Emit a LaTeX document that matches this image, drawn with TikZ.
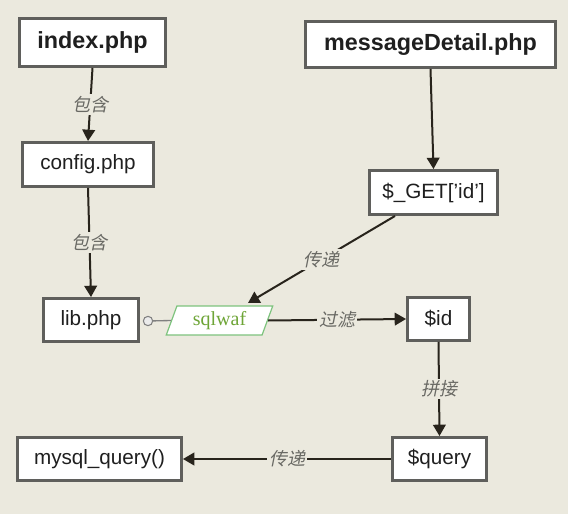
\documentclass[tikz,border=0pt]{standalone}
\usepackage{fontspec}
\setmainfont{Liberation Sans}
\newfontfamily\cjk[FakeSlant=0.2]{Noto Sans CJK SC}
\newfontfamily\wafserif{Liberation Serif}
\usetikzlibrary{shapes.geometric,arrows.meta,calc}
\definecolor{bg}{RGB}{235,233,222}
\definecolor{boxline}{RGB}{95,95,92}
\definecolor{edgecol}{RGB}{40,36,28}
\definecolor{labcol}{RGB}{105,105,100}
\definecolor{wafline}{RGB}{125,195,125}
\definecolor{waftext}{RGB}{110,165,55}
\begin{document}
\begin{tikzpicture}[x=0.75pt,y=-0.75pt,
  box/.style={draw=boxline,line width=2.2pt,fill=white,inner sep=0pt,text=black!88,font=\fontsize{15.5}{18}\selectfont},
  boldbox/.style={box,font=\fontsize{17.5}{20}\selectfont\bfseries},
  conn/.style={draw=edgecol,line width=1.5pt,-{Triangle[length=8.5pt,width=9.5pt]}},
  elabel/.style={fill=bg,inner sep=1.5pt,text=labcol,font=\cjk\fontsize{13.5}{15}\selectfont},
  wafbox/.style={draw=wafline,line width=0.9pt,fill=white,trapezium,trapezium left angle=70,trapezium right angle=110,trapezium stretches=true,inner sep=0pt,text=waftext,font=\wafserif\fontsize{15}{18}\selectfont}
]
\path[use as bounding box,fill=bg] (0,0) rectangle (568,514);

\node[boldbox,minimum width=109.5pt,minimum height=36pt] (index) at (92.5,42.5) {index.php};
\node[box,minimum width=98.25pt,minimum height=33pt] (config) at (88,164.5) {config.php};
\node[boldbox,minimum width=187.5pt,minimum height=34.5pt] (detail) at (430.5,44.5) {messageDetail.php};
\node[box,minimum width=96pt,minimum height=33pt] (get) at (433.5,192.5) {\$\_GET['id']};
\node[box,minimum width=71.25pt,minimum height=32.25pt] (lib) at (91,320) {lib.php};
\node[box,minimum width=46.5pt,minimum height=32.25pt] (id) at (438.5,319) {\$id};
\node[box,minimum width=123pt,minimum height=32.25pt] (mysql) at (99.5,459) {mysql\_query()};
\node[box,minimum width=70.5pt,minimum height=32.25pt] (query) at (439.5,459) {\$query};
\node[wafbox,minimum width=80.25pt,minimum height=21.75pt] (waf) at (219.5,320.5) {sqlwaf};
\node[circle,draw=gray,fill=black!8,line width=0.8pt,minimum size=7pt,inner sep=0pt] (lolly) at (148,321) {};

\draw[draw=gray,line width=1pt] (lolly) -- (waf.west);
\draw[conn] (index.south) -- node[elabel]{包含} (config.north);
\draw[conn] (config.south) -- node[elabel]{包含} (lib.north);
\draw[conn] (detail.south) -- (get.north);
\draw[conn] ($(get.south)+(-38.5,0)$) -- node[elabel]{传递} ($(waf.center)+(28.5,-17.5)$);
\draw[conn] (waf.east) -- node[elabel]{过滤} (id.west);
\draw[conn] (id.south) -- node[elabel]{拼接} (query.north);
\draw[conn] (query.west) -- node[elabel]{传递} (mysql.east);
\end{tikzpicture}
\end{document}
